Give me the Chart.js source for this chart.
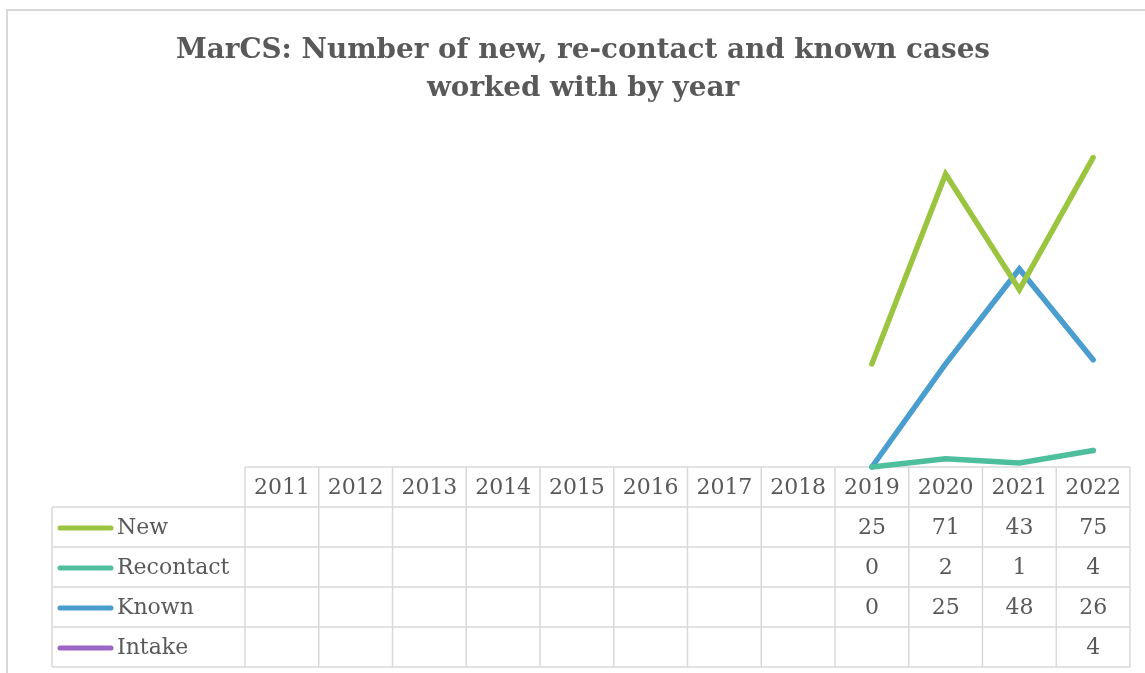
<!DOCTYPE html>
<html>
<head>
<meta charset="utf-8">
<script src="https://cdn.jsdelivr.net/npm/chart.js@4/dist/chart.umd.min.js"></script>
<style>
  html, body { margin: 0; padding: 0; background: #fff; }
  #wrap { width: 1145px; height: 673px; }
</style>
</head>
<body>
<div id="wrap"><canvas id="myChart" width="1145" height="673"></canvas></div>
<script>
// data
var years = ['2011', '2012', '2013', '2014', '2015', '2016', '2017', '2018', '2019', '2020', '2021', '2022'];
var newCases = [null, null, null, null, null, null, null, null, 25, 71, 43, 75];
var recontact = [null, null, null, null, null, null, null, null, 0, 2, 1, 4];
var known = [null, null, null, null, null, null, null, null, 0, 25, 48, 26];
var intake = [null, null, null, null, null, null, null, null, null, null, null, 4];
var titleLines = ['MarCS: Number of new, re-contact and known cases', 'worked with by year'];

var textColor = '#595959';
var gridColor = '#d9d9d9';
var serif = '"DejaVu Serif", "Liberation Serif", serif';

function fmt(v) {
    return v === null ? '' : String(v);
}

// title, outer frame and the data table under the plot
const tablePlugin = {
    id: 'tablePlugin',
    beforeDatasetsDraw(chart) {
        const ctx = chart.ctx;
        const xs = chart.scales.x;
        const step = xs.getPixelForValue(1) - xs.getPixelForValue(0);
        const left = xs.getPixelForValue(0) - step / 2;
        const right = xs.getPixelForValue(years.length - 1) + step / 2;
        const top = chart.chartArea.bottom;
        const headH = 40;
        const rowH = 40;
        const labelLeft = 52;
        const sets = chart.data.datasets;
        const bottom = top + headH + rowH * sets.length;

        ctx.save();
        // outer frame
        ctx.strokeStyle = gridColor;
        ctx.lineWidth = 2;
        ctx.strokeRect(7, 10, 1160, 700);

        // title
        ctx.fillStyle = textColor;
        ctx.textAlign = 'center';
        ctx.textBaseline = 'middle';
        let size = 27;
        ctx.font = 'bold ' + size + 'px ' + serif;
        const w = ctx.measureText(titleLines[0]).width;
        size = size * 813 / w;
        ctx.font = 'bold ' + size.toFixed(1) + 'px ' + serif;
        ctx.fillText(titleLines[0], 583, 51);
        ctx.fillText(titleLines[1], 583, 89);

        // grid
        ctx.lineWidth = 1.5;
        ctx.strokeStyle = gridColor;
        ctx.beginPath();
        ctx.moveTo(left, top);
        ctx.lineTo(right, top);
        for (let r = 0; r <= sets.length; r++) {
            const y = top + headH + r * rowH;
            ctx.moveTo(labelLeft, y);
            ctx.lineTo(right, y);
        }
        for (let i = 0; i <= years.length; i++) {
            const x = left + i * step;
            ctx.moveTo(x, top);
            ctx.lineTo(x, bottom);
        }
        ctx.moveTo(labelLeft, top + headH);
        ctx.lineTo(labelLeft, bottom);
        ctx.stroke();

        // header
        ctx.font = '22px ' + serif;
        ctx.fillStyle = textColor;
        years.forEach((yr, i) => {
            ctx.fillText(yr, xs.getPixelForValue(i), top + headH / 2 + 1);
        });

        // rows
        sets.forEach((ds, r) => {
            const cy = top + headH + r * rowH + rowH / 2 + 1;
            ctx.strokeStyle = ds.borderColor;
            ctx.lineWidth = 5;
            ctx.lineCap = 'round';
            ctx.beginPath();
            ctx.moveTo(60, cy);
            ctx.lineTo(111, cy);
            ctx.stroke();
            ctx.textAlign = 'left';
            ctx.fillStyle = textColor;
            ctx.fillText(ds.label, 117, cy);
            ctx.textAlign = 'center';
            ds.data.forEach((v, i) => {
                ctx.fillText(fmt(v), xs.getPixelForValue(i), cy);
            });
        });
        ctx.restore();
    }
};

const ctx = document.getElementById('myChart').getContext('2d');
const myChart = new Chart(ctx, {
    type: 'line',
    data: {
        labels: years,
        datasets: [
            { label: 'New', data: newCases, borderColor: '#9bc540' },
            { label: 'Recontact', data: recontact, borderColor: '#4dbf9d' },
            { label: 'Known', data: known, borderColor: '#4a9ecf' },
            { label: 'Intake', data: intake, borderColor: '#9c66c9' }
        ]
    },
    options: {
        responsive: false,
        animation: false,
        layout: {
            padding: { left: 245, right: 15, top: 137, bottom: 206 }
        },
        datasets: {
            line: {
                borderWidth: 5.5,
                pointRadius: 0,
                borderCapStyle: 'round',
                borderJoinStyle: 'miter',
                spanGaps: false,
                clip: false
            }
        },
        scales: {
            x: { display: false, offset: true },
            y: { display: false, min: 0, max: 80 }
        },
        plugins: {
            legend: { display: false },
            tooltip: { enabled: false },
            title: { display: false }
        }
    },
    plugins: [tablePlugin]
});
</script>
</body>
</html>
